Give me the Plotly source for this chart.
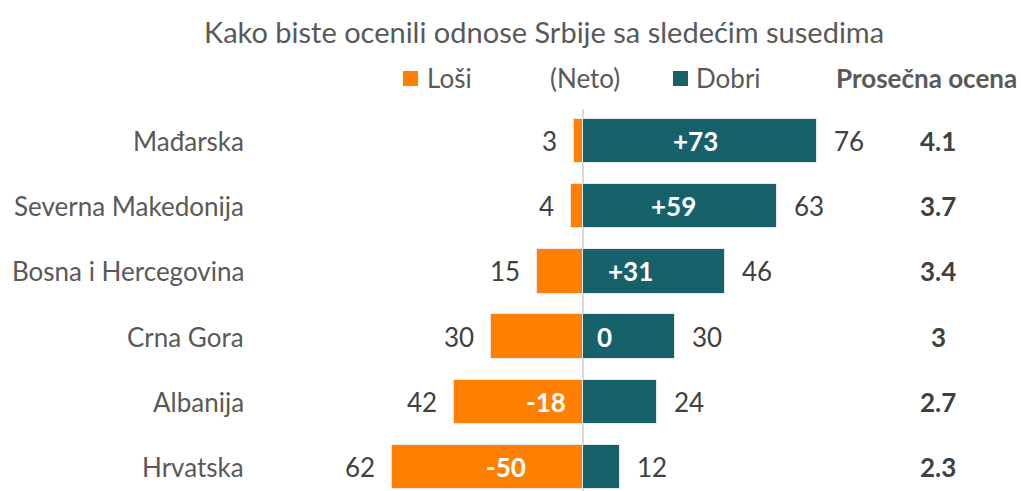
import plotly.graph_objects as go

countries = ["Mađarska", "Severna Makedonija", "Bosna i Hercegovina",
             "Crna Gora", "Albanija", "Hrvatska"]
losi = [3, 4, 15, 30, 42, 62]
dobri = [76, 63, 46, 30, 24, 12]
ocena = ["4.1", "3.7", "3.4", "3", "2.7", "2.3"]
neto = [d - l for d, l in zip(dobri, losi)]

ORANGE = "#FF8000"
TEAL = "#17616B"
TEXT = "#404040"
LIGHT_TEXT = "#595959"
FONT = "Lato"
FS = 26

W, H = 1021, 491
ZERO_PX = 583.0
PX_PER_UNIT = 3.08
ROW0_PX = 141.0
ROW_STEP = 65.2

x_range = [-ZERO_PX / PX_PER_UNIT, (W - ZERO_PX) / PX_PER_UNIT]
y_range = [(H - ROW0_PX) / ROW_STEP, -ROW0_PX / ROW_STEP]

fig = go.Figure()
fig.add_trace(go.Bar(
    y=list(range(len(countries))), x=[-v for v in losi], orientation="h",
    marker=dict(color=ORANGE, line=dict(color="#e8e8e8", width=1)),
    width=0.68, showlegend=False, hoverinfo="skip",
))
fig.add_trace(go.Bar(
    y=list(range(len(countries))), x=dobri, orientation="h",
    marker=dict(color=TEAL, line=dict(color="#e8e8e8", width=1)),
    width=0.68, showlegend=False, hoverinfo="skip",
))

# zero line
fig.add_shape(type="line", xref="x", yref="paper", x0=0, x1=0,
              y0=0, y1=1 - 109 / H, line=dict(color="#d9d9d9", width=2),
              layer="below")

ann = []
for i, c in enumerate(countries):
    # country name
    ann.append(dict(x=246 / W, xref="paper", y=i, yref="y", text=c,
                    xanchor="right", showarrow=False,
                    font=dict(family=FONT, size=FS, color=LIGHT_TEXT)))
    # bad value (left of orange bar)
    ann.append(dict(x=-losi[i], y=i, text=str(losi[i]), xanchor="right",
                    xshift=-15, showarrow=False,
                    font=dict(family=FONT, size=FS, color=TEXT)))
    # good value (right of teal bar)
    ann.append(dict(x=dobri[i], y=i, text=str(dobri[i]), xanchor="left",
                    xshift=15, showarrow=False,
                    font=dict(family=FONT, size=FS, color=TEXT)))
    # net value inside the bars
    n = neto[i]
    if abs(n) > 25:
        nx = n / 2
    else:
        nx = 7 if n >= 0 else -12
    label = f"+{n}" if n > 0 else str(n)
    ann.append(dict(x=nx, y=i, text=f"<b>{label}</b>", xanchor="center",
                    showarrow=False,
                    font=dict(family=FONT, size=FS, color="white")))
    # average score
    ann.append(dict(x=938 / W, xref="paper", y=i, yref="y",
                    text=f"<b>{ocena[i]}</b>", xanchor="center",
                    showarrow=False,
                    font=dict(family=FONT, size=FS, color=TEXT)))

# title and legend row
ann.append(dict(x=544 / W, y=1 - 31 / H, xref="paper", yref="paper",
                text="Kako biste ocenili odnose Srbije sa sledećim susedima",
                showarrow=False, xanchor="center", yanchor="middle",
                font=dict(family=FONT, size=29, color=LIGHT_TEXT)))
leg_y = 1 - 78 / H
ann.append(dict(x=425 / W, y=leg_y, xref="paper", yref="paper", text="Loši",
                showarrow=False, xanchor="left", yanchor="middle",
                font=dict(family=FONT, size=FS, color=LIGHT_TEXT)))
ann.append(dict(x=585 / W, y=leg_y, xref="paper", yref="paper", text="(Neto)",
                showarrow=False, xanchor="center", yanchor="middle",
                font=dict(family=FONT, size=FS, color=LIGHT_TEXT)))
ann.append(dict(x=694 / W, y=leg_y, xref="paper", yref="paper", text="Dobri",
                showarrow=False, xanchor="left", yanchor="middle",
                font=dict(family=FONT, size=FS, color=LIGHT_TEXT)))
ann.append(dict(x=1019 / W, y=leg_y, xref="paper", yref="paper",
                text="<b>Prosečna ocena</b>",
                showarrow=False, xanchor="right", yanchor="middle",
                font=dict(family=FONT, size=FS, color=LIGHT_TEXT)))

# legend squares
for x0, col in [(403, ORANGE), (673, TEAL)]:
    fig.add_shape(type="rect", xref="paper", yref="paper",
                  x0=x0 / W, x1=(x0 + 15) / W,
                  y0=1 - 86 / H, y1=1 - 71 / H,
                  fillcolor=col, line=dict(width=0))

fig.update_layout(
    width=W, height=H,
    margin=dict(l=0, r=0, t=0, b=0),
    paper_bgcolor="white", plot_bgcolor="white",
    barmode="relative", bargap=0,
    annotations=ann,
    xaxis=dict(range=x_range, visible=False, fixedrange=True),
    yaxis=dict(range=y_range, visible=False, fixedrange=True),
    font=dict(family=FONT),
)

fig.write_html("out.html")
